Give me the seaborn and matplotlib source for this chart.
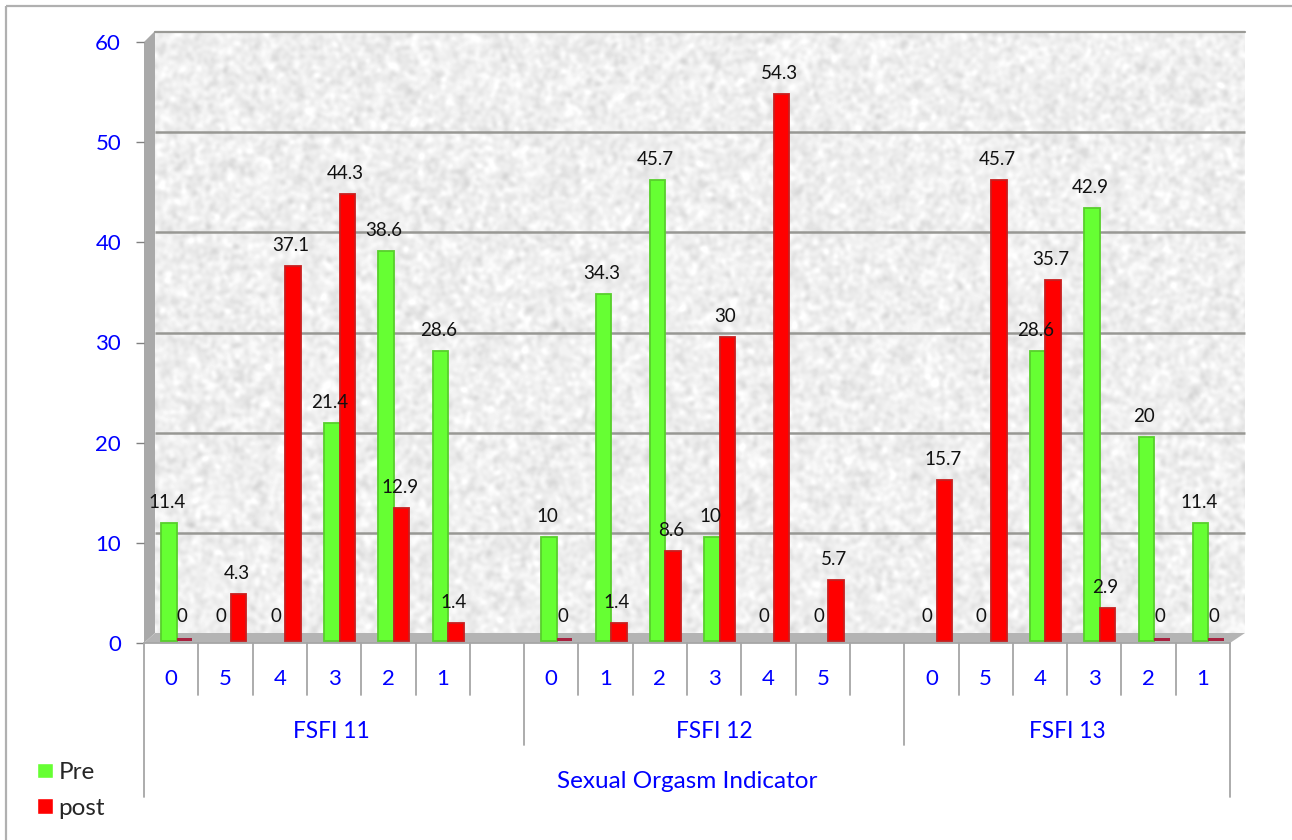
import numpy as np
import pandas as pd
import matplotlib
matplotlib.use("Agg")
import matplotlib.pyplot as plt
from matplotlib.patches import Polygon, Rectangle
from matplotlib.transforms import Affine2D
import seaborn as sns

# values, one entry per slot (None = empty gap slot)
slot_labels = ["0", "5", "4", "3", "2", "1", "",
               "0", "1", "2", "3", "4", "5", "",
               "0", "5", "4", "3", "2", "1"]
pre_values = [11.4, 0, 0, 21.4, 38.6, 28.6, None,
              10, 34.3, 45.7, 10, 0, 0, None,
              0, 0, 28.6, 42.9, 20, 11.4]
post_values = [0, 4.3, 37.1, 44.3, 12.9, 1.4, None,
               0, 1.4, 8.6, 30, 54.3, 5.7, None,
               15.7, 45.7, 35.7, 2.9, 0, 0]
group_names = ["FSFI 11", "FSFI 12", "FSFI 13"]
axis_title = "Sexual Orgasm Indicator"
y_ticks = [0, 10, 20, 30, 40, 50, 60]

GREEN = "#66ff33"
RED = "#ff0000"
BLUE = "#0000ff"
LINE = "#a6a6a6"

sns.set_style("white")
plt.rcParams["font.family"] = ["Lato", "DejaVu Sans"]

W, H = 1292, 840
fig = plt.figure(figsize=(W / 100, H / 100), dpi=100, facecolor="white")

# background layer in pixel coordinates: frame and the 3d walls
bg = fig.add_axes([0, 0, 1, 1], zorder=0)
rng = np.random.default_rng(3)
noise = rng.normal(size=(602, 1090))
fx = np.fft.fftfreq(noise.shape[1])[None, :]
fy = np.fft.fftfreq(noise.shape[0])[:, None]
blur = np.exp(-2 * (np.pi * 2.2) ** 2 * (fx ** 2 + fy ** 2))
noise = np.fft.ifft2(np.fft.fft2(noise) * blur).real
noise = noise / noise.std()
texture = np.clip(0.935 + 0.024 * noise, 0, 1)
bg.imshow(texture, cmap="gray", vmin=0, vmax=1, aspect="auto",
          extent=(155, 1245, 633, 31), interpolation="bilinear")
bg.add_patch(Polygon([(144, 42), (155, 31), (155, 633), (144, 643)], color="#a9a9a9", lw=0))
bg.add_patch(Polygon([(144, 643), (155, 633), (1245, 633), (1230, 643)], color="#b4b4b4", lw=0))
bg.plot([155, 1245], [31.5, 31.5], color="#9a9a96", lw=1.6)
bg.add_patch(Rectangle((6, 6), 1290, 840, fill=False, ec="#b0b0b0", lw=1.6))
bg.set_xlim(0, W)
bg.set_ylim(H, 0)
bg.axis("off")

# main axes: front edge of the 3d box
left, right, top, bottom = 144, 1230, 42, 643
ax = fig.add_axes([left / W, 1 - bottom / H, (right - left) / W, (bottom - top) / H], zorder=1)
ax.patch.set_visible(False)

slots = list(range(len(slot_labels)))
df = pd.DataFrame({
    "slot": slots * 2,
    "value": pre_values + post_values,
    "series": ["Pre"] * len(slots) + ["post"] * len(slots),
})
sns.barplot(data=df, x="slot", y="value", hue="series", order=slots,
            hue_order=["Pre", "post"], palette={"Pre": GREEN, "post": RED},
            width=0.57, saturation=1, ax=ax, zorder=3)

ax.set_xlim(-0.5, 19.5)
ax.set_ylim(0, 60)
ax.set_xlabel("")
ax.set_ylabel("")

# bars stand on the floor of the box, a few pixels behind the front edge
shift = Affine2D().translate(5.5, 5.5)
for bar in ax.patches:
    if bar.get_width() == 0 or np.isnan(bar.get_height()):
        continue
    h = bar.get_height()
    bar.set_transform(ax.transData + shift)
    bar.set_clip_on(False)
    base = -0.3
    is_red = bar.get_facecolor()[1] < 0.5
    if h == 0:
        if is_red:
            bar.set_y(-0.3)
            bar.set_height(0.25)
            bar.set_facecolor("#a8213f")
            bar.set_edgecolor("none")
            bar.set_linewidth(0)
        else:
            bar.set_visible(False)
    else:
        bar.set_y(base)
        bar.set_height(h - base)
        bar.set_edgecolor("#c81e1e" if is_red else "#58cf2c")
        bar.set_linewidth(1.3)

# data labels
for i, (a, b) in enumerate(zip(pre_values, post_values)):
    if a is None:
        continue
    for v, off in ((a, -7.75), (b, 7.75)):
        ax.annotate(f"{v:g}", (i, v), xytext=(off + 3.5, 26), textcoords="offset pixels",
                    ha="center", va="center", fontsize=13.5, color="#111111", zorder=5,
                    annotation_clip=False)

# gridlines sit on the back wall
ax.hlines(y_ticks[1:-1], -0.5, 19.57, color="#989894", lw=1.8, zorder=1, clip_on=False,
          transform=ax.transData + Affine2D().translate(11, 10))

for s in ax.spines.values():
    s.set_visible(False)

ax.set_yticks(y_ticks)
ax.tick_params(axis="y", left=True, length=5.5, width=1, color="#808080", pad=11,
               labelsize=16, labelcolor=BLUE)
ax.set_xticks(slots)
ax.set_xticklabels(slot_labels)
ax.tick_params(axis="x", bottom=False, pad=15, labelsize=16, labelcolor=BLUE)

# multi level category axis below the plot
ax_h = bottom - top
trans = ax.get_xaxis_transform()
edges = np.arange(-0.5, 20)
ends = {0: 154, 7: 102, 14: 102, 20: 154}
for k, e in enumerate(edges):
    ax.plot([e, e], [0, -ends.get(k, 52) / ax_h], color=LINE, lw=1.3, transform=trans,
            clip_on=False, zorder=2)
ax.plot([-0.5, 19.5], [0, 0], color=LINE, lw=1.3, transform=trans, clip_on=False, zorder=2)

for name, c in zip(group_names, (2.95, 10.0, 16.51)):
    ax.text(c, -88 / ax_h, name, transform=trans, ha="center", va="center",
            fontsize=16.3, color=BLUE)
ax.text(9.5, -139 / ax_h, axis_title, transform=trans, ha="center", va="center",
        fontsize=17.5, color=BLUE)

sns.move_legend(ax, loc="lower left", bbox_to_anchor=(18 / W, 1 - 838 / H),
                bbox_transform=fig.transFigure, frameon=False, title=None, fontsize=17.5,
                handlelength=0.62, handleheight=0.62, labelspacing=0.6, handletextpad=0.25,
                borderpad=0.3)

fig.savefig("out.png", dpi=100)
